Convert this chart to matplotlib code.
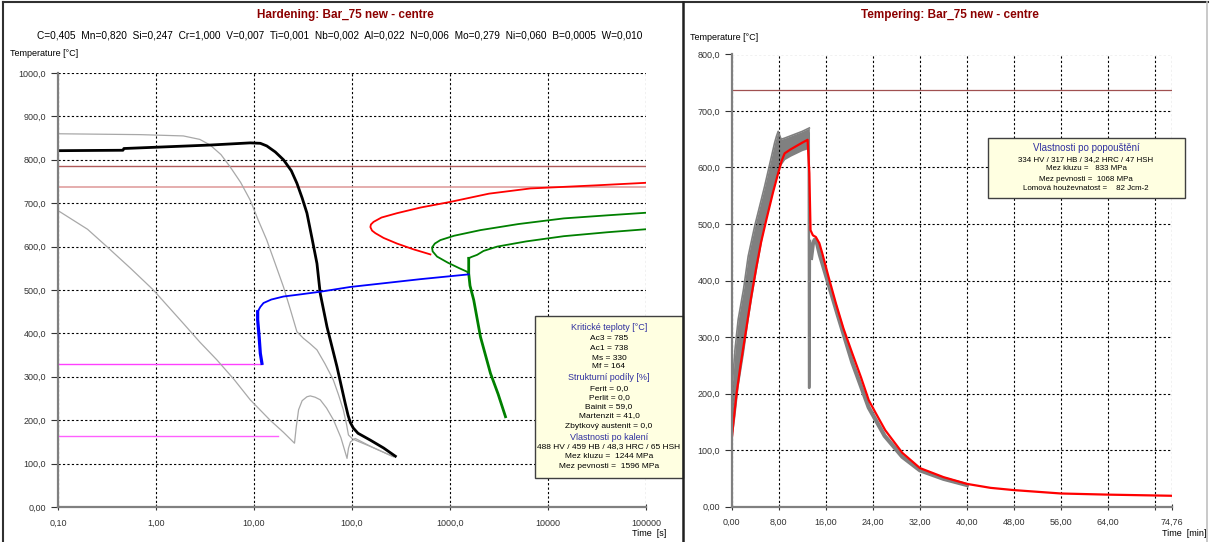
import matplotlib
matplotlib.use("Agg")
import matplotlib.pyplot as plt
from matplotlib.lines import Line2D
from matplotlib.patches import Rectangle

plt.rcParams["font.family"] = ["Liberation Sans", "DejaVu Sans"]

W, H = 1210, 542

# --- hardening (CCT) panel data ---
comp_text = ("C=0,405  Mn=0,820  Si=0,247  Cr=1,000  V=0,007  Ti=0,001  Nb=0,002  "
             "Al=0,022  N=0,006  Mo=0,279  Ni=0,060  B=0,0005  W=0,010")
x_ticks_h = [0.1, 1, 10, 100, 1000, 10000, 100000]
x_labels_h = ["0,10", "1,00", "10,00", "100,0", "1000,0", "10000", "100000"]
y_ticks_h = list(range(0, 1001, 100))
y_labels_h = ["0,00"] + [f"{v},0" for v in range(100, 1001, 100)]

ac3, ac1, ms, mf = 785, 738, 330, 164
ms_end, mf_end = 12.1, 17.7

black_t = [0.1, 0.46, 0.47, 3.57, 9.15, 11.6, 13.5, 16.5, 20, 24, 27.4, 31, 34.7, 39, 43.9,
           47.4, 55.6, 70.3, 85, 91, 96, 103, 115, 154, 210, 277]
black_T = [821, 822, 826, 834, 839, 838, 832, 818, 800, 775, 746, 712, 677, 620, 561,
           492, 415, 323, 240, 212, 195, 182, 170, 154, 136, 117]

gray1_t = [0.1, 0.69, 1.9, 2.8, 3.57, 4.6, 5.7, 7.3, 9.15, 11, 13.5, 16.5, 20, 23.5, 27.4,
           31.8, 37, 43.9, 53, 64.4, 73, 81.5, 88, 92, 100, 108, 160, 264]
gray1_T = [860, 858, 855, 847, 834, 812, 784, 748, 707, 662, 615, 560, 507, 455, 404,
           389, 377, 362, 330, 293, 258, 224, 190, 166, 158, 154, 138, 116]

gray2_t = [0.1, 0.2, 0.315, 0.55, 0.94, 1.9, 2.8, 4.18, 6.2, 9.15, 14.6, 20, 25.9, 27,
           28.5, 31, 34.7, 37.5, 42, 47.4, 55, 64.9, 77, 89, 92, 96.5, 108, 160, 264]
gray2_T = [683, 640, 600, 550, 500, 423, 380, 339, 295, 247, 200, 172, 147, 185,
           224, 245, 254, 256, 253, 247, 228, 200, 160, 112, 135, 150, 158, 138, 116]

ferrite_t = [100000, 30000, 6620, 2500, 1009, 500, 288, 200, 166, 156, 154, 160, 173, 210,
             288, 420, 631]
ferrite_T = [747, 741, 734, 722, 703, 690, 677, 667, 657, 651, 645, 637, 631, 620,
             607, 594, 582]

bs_t = [100000, 40000, 14500, 5000, 2046, 1100, 798, 700, 656, 665, 738, 950, 1250, 1496, 1552]
bs_T = [678, 672, 665, 652, 638, 625, 615, 607, 598, 589, 577, 563, 550, 542, 536]

bf_t = [100000, 40000, 14500, 6000, 3029, 2200, 1891, 1650, 1552]
bf_T = [640, 633, 624, 612, 600, 590, 581, 576, 573]
bf_thick_t = [1552, 1552, 1600, 1746, 2046, 2588, 3100, 3684]
bf_thick_T = [573, 538, 510, 477, 392, 308, 260, 208]

mart_t = [1552, 500, 200, 96, 47.4, 30, 20, 15, 12.5, 11.6, 10.9]
mart_T = [536, 525, 515, 507, 496, 490, 485, 478, 470, 461, 450]
mart_thick_t = [10.9, 10.9, 11.3, 11.6, 12.05]
mart_thick_T = [450, 431, 390, 354, 331]

box1_lines = [
    ("Kritické teploty [°C]", True), ("Ac3 = 785", False), ("Ac1 = 738", False),
    ("Ms = 330", False), ("Mf = 164", False),
    ("Strukturní podíly [%]", True), ("Ferit = 0,0", False), ("Perlit = 0,0", False),
    ("Bainit = 59,0", False), ("Martenzit = 41,0", False), ("Zbytkový austenit = 0,0", False),
    ("Vlastnosti po kalení", True), ("488 HV / 459 HB / 48,3 HRC / 65 HSH", False),
    ("Mez kluzu =  1244 MPa", False), ("Mez pevnosti =  1596 MPa", False),
]
box1_y = [328, 339, 349, 358, 367, 378, 389, 398, 407, 416, 426, 437, 447, 457, 467]

# --- tempering panel data ---
x_ticks_t = [0, 8, 16, 24, 32, 40, 48, 56, 64, 72, 74.76]
x_labels_t = ["0,00", "8,00", "16,00", "24,00", "32,00", "40,00", "48,00", "56,00", "64,00", "", "74,76"]
y_ticks_t = list(range(0, 801, 100))
y_labels_t = ["0,00"] + [f"{v},0" for v in range(100, 801, 100)]

red_t = [0, 0.3, 0.84, 1.5, 2.53, 3.3, 4.2, 5.0, 5.9, 7.0, 7.9, 8.5, 9.0, 10, 11, 12, 12.9,
         13.2, 13.4, 13.8, 14.3, 14.9, 15.4, 16.5, 17.7, 19, 20.5, 22, 23.3, 24.5, 26.1,
         29, 32, 36, 40, 44, 48, 56, 64, 74.76]
red_T = [118, 150, 201, 250, 318, 370, 424, 468, 508, 555, 590, 612, 625, 632, 638, 644, 649,
         590, 489, 480, 477, 466, 448, 405, 360, 315, 271, 228, 188, 165, 135,
         95, 68, 52, 40, 33, 29, 23, 21, 19]

band_t = [0, 0.56, 1.1, 2, 2.8, 3.9, 5.6, 7.3, 7.6, 7.9, 8.4, 9, 10, 11, 12, 13.2]
band_hi = [201, 278, 331, 384, 443, 496, 567, 644, 655, 664, 650, 652, 656, 660, 664, 670]
band_lo = [115, 160, 212, 270, 330, 400, 500, 575, 585, 595, 605, 614, 620, 625, 630, 634]

spike_t = [13.1, 13.15, 13.2, 13.3]
spike_T = [660, 210, 210, 470]

gdecay_t = [13.5, 13.8, 14.1, 14.5, 15, 16, 17, 18, 20.5, 23.3, 26, 29, 32, 36, 40]
gdecay_T = [440, 465, 472, 466, 445, 410, 375, 340, 255, 175, 125, 88, 64, 49, 38]

box2_lines = [
    ("Vlastnosti po popouštění", True), ("334 HV / 317 HB / 34,2 HRC / 47 HSH", False),
    ("Mez kluzu =   833 MPa", False), ("Mez pevnosti =  1068 MPa", False),
    ("Lomová houževnatost =    82 Jcm-2", False),
]
box2_y = [148, 160, 169, 179, 189]


def fx(x):
    return x / W


def fy(y):
    return 1 - y / H


def style_axes(ax):
    for s in ("top", "right"):
        ax.spines[s].set_visible(False)
    for s in ("left", "bottom"):
        ax.spines[s].set_color("#808080")
        ax.spines[s].set_linewidth(1.6)
    ax.grid(True, which="major", color="black", linestyle=(0, (2, 2)), linewidth=0.8)
    ax.tick_params(axis="both", labelsize=6.5, colors="#333333", length=5, width=0.8)
    ax.tick_params(axis="x", direction="inout", pad=6)
    ax.minorticks_off()


def info_box(fig, x0, y0, x1, y1, lines, ys, cx, head_size, body_size):
    fig.add_artist(Rectangle((fx(x0), fy(y1)), fx(x1 - x0), (y1 - y0) / H,
                             transform=fig.transFigure, facecolor="#ffffe1",
                             edgecolor="#404040", linewidth=1.0, zorder=5))
    for (txt, head), y in zip(lines, ys):
        fig.text(fx(cx), fy(y), txt, ha="center", va="center", zorder=6,
                 fontsize=head_size if head else body_size,
                 color="#3030a0" if head else "black")


fig = plt.figure(figsize=(W / 100, H / 100), dpi=100)

# hardening
ax1 = fig.add_axes([fx(58), fy(507), fx(646 - 58), (507 - 73) / H])
ax1.set_xscale("log")
ax1.axhline(ac3, color="#b05a5a", lw=1)
ax1.axhline(ac1, color="#e0a0a0", lw=1.2)
ax1.plot([0.1, ms_end], [ms, ms], color="#ff40ff", lw=1)
ax1.plot([0.1, mf_end], [mf, mf], color="#ff60ff", lw=1)
ax1.plot(gray1_t, gray1_T, color="#a8a8a8", lw=0.9)
ax1.plot(gray2_t, gray2_T, color="#a8a8a8", lw=0.9)
ax1.plot(black_t, black_T, color="black", lw=2)
ax1.plot(ferrite_t, ferrite_T, color="red", lw=1.3)
ax1.plot(bs_t, bs_T, color="#008000", lw=1.3)
ax1.plot(bf_t, bf_T, color="#008000", lw=1.3)
ax1.plot(bf_thick_t, bf_thick_T, color="#008000", lw=2)
ax1.plot(mart_t, mart_T, color="blue", lw=1.3)
ax1.plot(mart_thick_t, mart_thick_T, color="blue", lw=2.3)
ax1.set_xlim(0.1, 100000)
ax1.set_ylim(0, 1000)
ax1.set_xticks(x_ticks_h)
ax1.set_xticklabels(x_labels_h)
ax1.set_yticks(y_ticks_h)
ax1.set_yticklabels(y_labels_h)
style_axes(ax1)

# tempering
ax2 = fig.add_axes([fx(731.7), fy(506.5), fx(1171.5 - 731.7), (506.5 - 54.5) / H])
ax2.axhline(738, color="#a05050", lw=0.9)
ax2.fill_between(band_t, band_lo, band_hi, color="#808080", lw=0)
ax2.plot(band_t, band_hi, color="#808080", lw=1.2)
ax2.plot(spike_t, spike_T, color="#808080", lw=1.8)
ax2.plot(gdecay_t, gdecay_T, color="#808080", lw=3)
ax2.plot(red_t, red_T, color="red", lw=1.6)
ax2.set_xlim(0, 74.76)
ax2.set_ylim(0, 800)
ax2.set_xticks(x_ticks_t)
ax2.set_xticklabels(x_labels_t)
ax2.set_yticks(y_ticks_t)
ax2.set_yticklabels(y_labels_t)
style_axes(ax2)

# titles and labels
fig.text(fx(345), fy(15), "Hardening: Bar_75 new - centre", ha="center", va="center",
         fontsize=8.5, fontweight="bold", color="#8b0000")
fig.text(fx(340), fy(35), comp_text, ha="center", va="center", fontsize=7.3)
fig.text(fx(950), fy(15), "Tempering: Bar_75 new - centre", ha="center", va="center",
         fontsize=8.5, fontweight="bold", color="#8b0000")
fig.text(fx(10), fy(53), "Temperature [°C]", ha="left", va="center", fontsize=6.5)
fig.text(fx(690), fy(37), "Temperature [°C]", ha="left", va="center", fontsize=6.5)
fig.text(fx(666), fy(534), "Time  [s]", ha="right", va="center", fontsize=6.5)
fig.text(fx(1206), fy(534), "Time  [min]", ha="right", va="center", fontsize=6.5)

info_box(fig, 535, 316, 683, 478, box1_lines, box1_y, 609, 6.5, 6.0)
info_box(fig, 988, 138, 1185, 198, box2_lines, box2_y, 1086, 7, 5.7)

# panel frames
for (xa, ya, xb, yb, c, lw) in [(3, 2, 1208, 2, "#303030", 1.5), (3, 2, 3, 542, "#303030", 1.5),
                                (683, 2, 683, 542, "#202020", 1.8), (1207, 2, 1207, 542, "#c0c0c0", 1.2)]:
    fig.add_artist(Line2D([fx(xa), fx(xb)], [fy(ya), fy(yb)], transform=fig.transFigure,
                          color=c, lw=lw, zorder=7))

fig.savefig("out.png", dpi=100)
